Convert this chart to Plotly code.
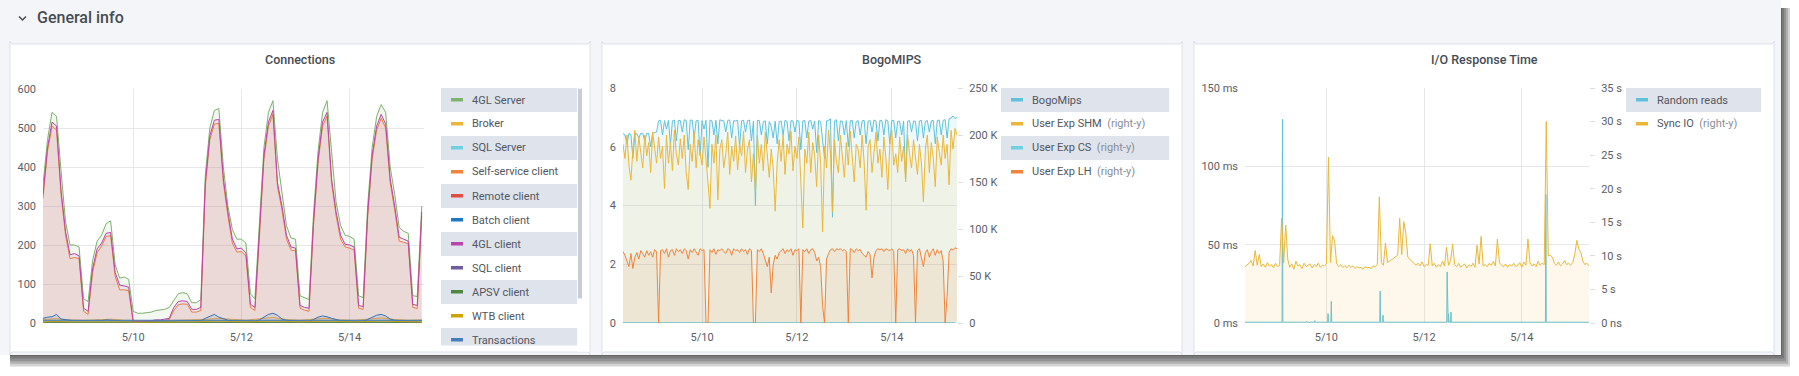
import pandas as pd
import plotly.graph_objects as go

W, H = 1799, 376
START = pd.Timestamp("2023-05-08 08:00")
END = START + pd.Timedelta(hours=169)

# ---------------- Connections (2-hour samples) ----------------
conn_hours = list(range(0, 169, 2))
gl_server = [355, 470, 540, 530, 390, 260, 200, 200, 195, 62,
             55, 160, 210, 225, 255, 262, 150, 115, 118, 112,
             30, 25, 25, 27, 28, 32, 33, 35, 40, 58,
             75, 78, 75, 52, 52, 60, 380, 500, 545, 550,
             400, 300, 240, 215, 215, 205, 75, 62, 250, 450,
             540, 570, 420, 330, 250, 218, 215, 70, 65, 60,
             280, 440, 540, 570, 440, 310, 250, 225, 222, 215,
             70, 65, 300, 450, 530, 560, 540, 400, 330, 245,
             235, 230, 70, 68, 300]
gl_client = [330, 450, 515, 505, 340, 235, 175, 178, 172, 38,
             30, 140, 190, 205, 230, 232, 130, 97, 95, 92,
             5, 4, 5, 5, 6, 8, 8, 10, 12, 40,
             55, 57, 55, 35, 35, 40, 360, 480, 520, 522,
             370, 285, 215, 190, 192, 180, 48, 40, 230, 430,
             515, 545, 360, 300, 225, 195, 192, 45, 40, 38,
             260, 420, 515, 540, 370, 285, 225, 202, 200, 195,
             45, 42, 280, 430, 505, 535, 510, 370, 300, 220,
             215, 210, 48, 45, 285]
self_service = [320, 440, 505, 495, 330, 225, 165, 168, 165, 30,
                22, 130, 180, 197, 222, 224, 120, 85, 85, 83,
                3, 3, 4, 4, 4, 6, 6, 7, 9, 32,
                47, 49, 48, 28, 28, 32, 350, 470, 510, 512,
                360, 275, 205, 182, 183, 172, 40, 32, 220, 420,
                505, 535, 350, 290, 215, 187, 185, 38, 33, 30,
                250, 410, 505, 530, 360, 275, 215, 195, 192, 187,
                38, 35, 270, 420, 495, 525, 500, 360, 290, 210,
                207, 203, 40, 37, 275]
batch_client = [12, 15, 16, 22, 10, 8, 7, 6, 6, 5,
                5, 6, 7, 6, 8, 7, 6, 5, 5, 5,
                4, 4, 4, 4, 4, 4, 4, 5, 5, 5,
                6, 6, 5, 5, 5, 6, 12, 18, 22, 15,
                10, 7, 6, 6, 5, 5, 5, 5, 8, 14,
                22, 25, 20, 10, 7, 6, 6, 5, 5, 5,
                9, 15, 18, 16, 12, 8, 6, 6, 5, 5,
                5, 5, 9, 15, 20, 22, 18, 10, 7, 6,
                6, 5, 5, 5, 7]
# minor connection series (6-hour samples)
minor_hours = list(range(0, 169, 6))
broker = [9, 11, 8, 7, 8, 10, 7, 6, 6, 6, 7, 7, 9, 12, 10, 7, 11, 14, 9, 7, 10, 12, 8, 7, 10, 13, 9, 7, 8]
sql_server = [5, 5, 4, 4, 4, 5, 4, 3, 3, 3, 4, 4, 5, 6, 5, 4, 5, 6, 5, 4, 5, 6, 5, 4, 5, 6, 5, 4, 5]
remote_client = [1, 1, 1, 1, 1, 1, 1, 1, 1, 1, 1, 1, 1, 1, 1, 1, 1, 1, 1, 1, 1, 1, 1, 1, 1, 1, 1, 1, 1]
sql_client = [0, 0, 0, 0, 0, 0, 0, 0, 0, 0, 0, 0, 0, 0, 0, 0, 0, 0, 0, 0, 0, 0, 0, 0, 0, 0, 0, 0, 0]
apsv_client = [1, 1, 1, 1, 1, 1, 1, 1, 1, 1, 1, 1, 1, 1, 1, 1, 1, 1, 1, 1, 1, 1, 1, 1, 1, 1, 1, 1, 1]
wtb_client = [3, 4, 3, 3, 3, 4, 3, 2, 2, 2, 3, 3, 4, 5, 4, 3, 4, 5, 4, 3, 4, 5, 4, 3, 4, 5, 4, 3, 3]
transactions = [7, 7, 7, 6, 6, 7, 6, 6, 6, 6, 6, 6, 7, 7, 7, 6, 7, 7, 7, 6, 7, 7, 7, 6, 7, 7, 7, 6, 7]

conn_names = ["4GL Server", "Broker", "SQL Server", "Self-service client", "Remote client",
              "Batch client", "4GL client", "SQL client", "APSV client", "WTB client", "Transactions"]
conn_colors = ["#7EB26D", "#EAB839", "#6ED0E0", "#EF843C", "#E24D42",
               "#1F78C1", "#BA43A9", "#705DA0", "#508642", "#CCA300", "#447EBC"]

# ---------------- BogoMIPS (hourly samples) ----------------
bogo_hours = list(range(0, 170))
bogomips = [6.45, 6.40, 6.10, 6.45, 6.42, 5.60, 6.45, 6.44, 6.30, 6.46,
            6.45, 6.20, 6.46, 6.45, 6.00, 6.47, 6.48, 6.50, 6.88, 6.90,
            6.40, 6.89, 6.60, 6.90, 6.05, 6.88, 6.91, 6.20, 6.90, 6.89,
            6.50, 6.92, 6.89, 5.90, 6.90, 6.91, 6.30, 6.88, 6.90, 5.70,
            6.89, 6.60, 6.90, 5.30, 6.91, 6.88, 6.40, 6.90, 6.10, 6.92,
            6.89, 6.88, 6.50, 6.90, 6.91, 6.30, 6.89, 6.88, 6.90, 6.00,
            6.88, 6.90, 6.50, 6.89, 6.91, 6.20, 6.88, 4.00, 6.90, 6.89,
            6.40, 6.85, 6.88, 6.10, 6.86, 6.70, 6.30, 6.87, 6.10, 6.85,
            6.88, 6.40, 6.90, 6.86, 6.20, 6.89, 6.88, 6.50, 6.90, 6.87,
            5.90, 6.88, 6.89, 6.30, 6.87, 6.90, 6.60, 6.88, 5.80, 6.89,
            6.86, 6.20, 5.60, 6.88, 6.90, 6.95, 3.60, 6.88, 6.92, 6.20,
            6.88, 6.87, 6.40, 6.89, 6.00, 6.88, 6.90, 6.30, 6.86, 6.89,
            6.40, 6.88, 6.90, 6.10, 6.87, 6.89, 6.50, 6.91, 6.88, 6.20,
            6.90, 6.89, 6.40, 6.92, 6.88, 6.10, 6.89, 6.90, 6.30, 6.87,
            6.86, 6.40, 6.88, 4.90, 6.87, 6.89, 6.50, 6.88, 6.86, 6.20,
            6.88, 6.90, 6.30, 6.87, 6.89, 6.50, 6.88, 6.90, 6.10, 6.89,
            6.91, 6.40, 6.90, 6.92, 6.30, 6.95, 6.98, 7.05, 6.96, 7.00]
user_exp_shm_k = [190, 175, 200, 168, 152, 185, 205, 172, 198, 180,
                  165, 200, 178, 192, 160, 203, 185, 170, 198, 175,
                  188, 143, 200, 170, 192, 162, 205, 180, 168, 196,
                  175, 200, 160, 142, 190, 172, 203, 165, 195, 180,
                  168, 198, 176, 150, 122, 190, 170, 200, 131, 185,
                  195, 165, 180, 203, 158, 188, 172, 199, 163, 190,
                  178, 204, 160, 185, 195, 150, 180, 140, 200, 170,
                  190, 162, 203, 175, 155, 185, 165, 119, 170, 195,
                  172, 200, 158, 190, 180, 204, 162, 188, 175, 198,
                  150, 101, 185, 170, 203, 160, 192, 178, 145, 200,
                  170, 97, 188, 165, 205, 180, 118, 195, 172, 160,
                  200, 178, 155, 192, 168, 204, 175, 150, 190, 185,
                  165, 200, 172, 120, 188, 195, 160, 180, 203, 170,
                  185, 155, 198, 176, 142, 190, 205, 168, 180, 160,
                  198, 172, 188, 150, 200, 180, 165, 195, 175, 158,
                  190, 170, 129, 185, 200, 160, 192, 176, 145, 198,
                  182, 168, 200, 175, 190, 147, 205, 185, 207, 200]
user_exp_lh_k = [76, 72, 66, 60, 74, 58, 70, 75, 68, 77,
                 74, 70, 77, 72, 76, 70, 78, 76, 0, 77,
                 78, 74, 79, 70, 77, 78, 72, 79, 76, 78,
                 74, 79, 77, 68, 78, 75, 79, 76, 72, 79,
                 77, 78, 0, 0, 78, 75, 79, 73, 78, 77,
                 79, 76, 74, 79, 78, 72, 79, 77, 78, 75,
                 79, 76, 78, 73, 79, 77, 0, 0, 78, 76,
                 79, 74, 66, 60, 70, 32, 62, 72, 68, 75,
                 77, 79, 74, 78, 76, 79, 72, 78, 77, 79,
                 0, 78, 76, 79, 74, 78, 79, 75, 66, 70,
                 60, 18, 0, 68, 74, 78, 79, 76, 79, 78,
                 79, 77, 78, 76, 0, 79, 78, 75, 79, 77,
                 78, 74, 72, 70, 76, 73, 48, 70, 77, 79,
                 78, 79, 76, 79, 78, 77, 79, 76, 0, 78,
                 79, 77, 78, 74, 79, 76, 78, 72, 0, 77,
                 79, 70, 60, 75, 78, 70, 76, 79, 72, 78,
                 74, 77, 66, 0, 28, 75, 79, 78, 80, 79]
cs_hours = list(range(0, 170, 12))
user_exp_cs_k = [0.4, 0.4, 0.4, 0.4, 0.4, 0.4, 0.4, 0.4, 0.4, 0.4, 0.4, 0.4, 0.4, 0.4, 0.4]

bogo_names = ["BogoMips", "User Exp SHM", "User Exp CS", "User Exp LH"]
bogo_suffix = ["", "(right-y)", "(right-y)", "(right-y)"]
bogo_colors = ["#5FC2DA", "#EAB839", "#6ED0E0", "#EF843C"]
right_k_ticks = [0, 50, 100, 150, 200, 250]
right_k_text = ["0", "50 K", "100 K", "150 K", "200 K", "250 K"]

# ---------------- I/O Response Time ----------------
rr_hours = [0, 18.2, 18.4, 18.6, 30.0, 30.2, 30.4, 34.1, 34.3, 34.5, 40.6, 40.8, 41.0,
            42.2, 42.4, 42.6, 66.2, 66.4, 66.6, 67.6, 67.8, 68.0, 99.1, 99.3, 99.5,
            99.8, 100.0, 100.2, 101.0, 101.2, 101.4, 147.6, 147.8, 148.0, 169]
random_reads_ms = [0.5, 0.5, 130, 0.5, 0.5, 1.0, 0.5, 0.5, 1.5, 0.5, 0.5, 6, 0.5,
                   0.5, 13.8, 0.5, 0.5, 20.4, 0.5, 0.5, 5, 0.5, 0.5, 32.6, 0.5,
                   0.5, 6, 0.5, 0.5, 7, 0.5, 0.5, 82, 0.5, 0.5]
sync_hours = list(range(0, 170))
sync_io_s = [8.4, 8.6, 8.9, 9.3, 8.5, 10.8, 8.6, 10.2, 8.4, 8.8,
             8.3, 9.0, 8.5, 8.7, 8.2, 8.9, 8.4, 8.6, 15.6, 9.0,
             14.6, 9.5, 8.3, 8.8, 8.0, 9.2, 8.5, 8.7, 8.1, 8.9,
             8.4, 8.6, 8.8, 8.2, 8.7, 8.4, 8.9, 8.3, 8.6, 8.5,
             8.8, 24.7, 9.0, 13.0, 12.3, 8.9, 8.4, 8.7, 8.3, 8.5,
             8.2, 8.6, 8.3, 8.5, 8.1, 8.4, 8.2, 8.3, 8.0, 8.4,
             8.2, 8.3, 8.1, 8.5, 8.4, 8.7, 18.8, 9.0, 8.6, 11.9,
             9.0, 9.2, 9.4, 9.6, 9.8, 10.1, 15.6, 10.2, 15.1, 13.4,
             9.8, 9.5, 9.2, 8.8, 8.6, 8.9, 8.5, 9.1, 8.4, 8.7,
             8.6, 11.8, 8.5, 8.9, 8.3, 8.7, 8.4, 9.2, 8.5, 11.3,
             8.6, 9.3, 11.8, 8.7, 8.4, 8.9, 8.3, 8.6, 8.8, 8.2,
             8.7, 8.4, 8.9, 8.3, 11.6, 8.8, 12.9, 8.5, 8.7, 8.4,
             8.9, 8.6, 9.2, 8.5, 12.5, 9.0, 8.6, 8.4, 8.8, 8.3,
             8.7, 8.5, 8.9, 8.4, 8.6, 9.0, 8.3, 9.1, 8.6, 12.5,
             9.0, 8.5, 8.8, 8.4, 9.2, 8.6, 8.9, 8.7, 30.0, 10.0,
             10.1, 9.8, 8.9, 8.6, 9.1, 8.5, 8.8, 9.3, 8.7, 8.9,
             8.6, 9.0, 10.2, 12.3, 11.0, 10.5, 9.2, 8.7, 8.9, 8.5]
io_names = ["Random reads", "Sync IO"]
io_suffix = ["", "(right-y)"]
io_colors = ["#5FC2DA", "#EAB839"]
ms_ticks = [0, 50, 100, 150]
ms_text = ["0 ms", "50 ms", "100 ms", "150 ms"]
s_ticks = [0, 5, 10, 15, 20, 25, 30, 35]
s_text = ["0 ns", "5 s", "10 s", "15 s", "20 s", "25 s", "30 s", "35 s"]

date_ticks = ["2023-05-10", "2023-05-12", "2023-05-14"]
date_text = ["5/10", "5/12", "5/14"]

# ---------------- helpers ----------------
FONT = "Roboto, 'Noto Sans', sans-serif"
TXT = "#464c54"
TICK = "#5a5e66"
GRID = "#e6e7ea"


def t(hours):
    return [START + pd.Timedelta(hours=h) for h in hours]


def px(x):
    return x / W


def py(y):
    return 1 - y / H


def rgba(hexc, a):
    h = hexc.lstrip("#")
    return "rgba(%d,%d,%d,%s)" % (int(h[0:2], 16), int(h[2:4], 16), int(h[4:6], 16), a)


def series(hours, vals, color, xa, ya):
    return go.Scatter(x=t(hours), y=vals, mode="lines", line=dict(color=color, width=1),
                      fill="tozeroy", fillcolor=rgba(color, 0.1), xaxis=xa, yaxis=ya,
                      hoverinfo="skip", showlegend=False)


def rrect(x0, y0, x1, y1, r=3):
    X0, X1 = px(x0), px(x1)
    Y0, Y1 = py(y0), py(y1)
    rx, ry = r / W, r / H
    return ("M %f,%f L %f,%f Q %f,%f %f,%f L %f,%f Q %f,%f %f,%f L %f,%f Q %f,%f %f,%f "
            "L %f,%f Q %f,%f %f,%f Z" % (
                X0 + rx, Y0, X1 - rx, Y0, X1, Y0, X1, Y0 - ry, X1, Y1 + ry, X1, Y1, X1 - rx, Y1,
                X0 + rx, Y1, X0, Y1, X0, Y1 + ry, X0, Y0 - ry, X0, Y0, X0 + rx, Y0))


fig = go.Figure()

# Connections traces (in legend order, first drawn at bottom)
conn_data = [(conn_hours, gl_server), (minor_hours, broker), (minor_hours, sql_server),
             (conn_hours, self_service), (minor_hours, remote_client), (conn_hours, batch_client),
             (conn_hours, gl_client), (minor_hours, sql_client), (minor_hours, apsv_client),
             (minor_hours, wtb_client), (minor_hours, transactions)]
for (hrs, vals), col in zip(conn_data, conn_colors):
    fig.add_trace(series(hrs, vals, col, "x", "y"))

# BogoMIPS traces
fig.add_trace(series(bogo_hours, bogomips, bogo_colors[0], "x2", "y2"))
fig.add_trace(series(bogo_hours, user_exp_shm_k, bogo_colors[1], "x2", "y3"))
fig.add_trace(series(cs_hours, user_exp_cs_k, bogo_colors[2], "x2", "y3"))
fig.add_trace(series(bogo_hours, user_exp_lh_k, bogo_colors[3], "x2", "y3"))

# I/O traces
fig.add_trace(series(rr_hours, random_reads_ms, io_colors[0], "x3", "y4"))
fig.add_trace(series(sync_hours, sync_io_s, io_colors[1], "x3", "y5"))

tickfont = dict(family=FONT, size=11, color=TICK)


def xax(dom, anchor):
    return dict(domain=dom, anchor=anchor, range=[START, END], tickvals=date_ticks, ticktext=date_text,
                showgrid=True, gridcolor=GRID, gridwidth=1, zeroline=False, showline=False, ticks="",
                tickfont=tickfont, automargin=False, ticklabelstandoff=6, fixedrange=True)


def yleft(dom, anchor, rng, vals, text=None):
    d = dict(domain=dom, anchor=anchor, range=rng, tickvals=vals, showgrid=True, gridcolor=GRID,
             gridwidth=1, zeroline=False, showline=False, ticks="", tickfont=tickfont,
             automargin=False, ticklabelstandoff=6, fixedrange=True)
    if text:
        d["ticktext"] = text
    return d


def yright(over, anchor, rng, vals, text):
    return dict(overlaying=over, side="right", anchor=anchor, range=rng, tickvals=vals, ticktext=text,
                showgrid=False, zeroline=False, showline=False, ticks="outside", ticklen=5,
                tickcolor="#dcdee2", tickfont=tickfont, automargin=False, ticklabelstandoff=4,
                fixedrange=True)


ydom = [py(323), py(88)]
fig.update_layout(
    xaxis=xax([px(43), px(424)], "y"),
    yaxis=yleft([py(323), py(89)], "x", [0, 600], [0, 100, 200, 300, 400, 500, 600]),
    xaxis2=xax([px(623), px(957)], "y2"),
    yaxis2=yleft(ydom, "x2", [0, 8], [0, 2, 4, 6, 8]),
    yaxis3=yright("y2", "x2", [0, 250], right_k_ticks, right_k_text),
    xaxis3=xax([px(1245), px(1589)], "y4"),
    yaxis4=yleft(ydom, "x3", [0, 150], ms_ticks, ms_text),
    yaxis5=yright("y4", "x3", [0, 35], s_ticks, s_text),
)

shapes = []
# screenshot drop shadow
for i in range(5):
    shapes.append(dict(type="rect", xref="paper", yref="paper", x0=px(10), x1=px(1782 + 2 * i),
                       y0=py(356 + 2.6 * i), y1=py(8), fillcolor="rgba(0,0,0,0.17)",
                       line=dict(width=0), layer="below"))
# page background
shapes.append(dict(type="rect", xref="paper", yref="paper", x0=0, x1=px(1781), y0=py(355), y1=1,
                   fillcolor="#f4f5f8", line=dict(width=0), layer="below"))
# panels
panels = [(10, 590), (602, 1182), (1194, 1774)]
for a, b in panels:
    shapes.append(dict(type="path", xref="paper", yref="paper", path=rrect(a, 352, b, 44),
                       fillcolor="#ffffff", line=dict(color="#dde1ea", width=1), layer="below"))
# chevron of the row header
shapes.append(dict(type="path", xref="paper", yref="paper",
                   path="M %f,%f L %f,%f L %f,%f" % (px(19), py(16.5), px(22.5), py(20), px(26), py(16.5)),
                   line=dict(color=TXT, width=1.5), layer="above"))

annotations = [
    dict(text="General info", x=px(35), y=py(18), xref="paper", yref="paper", xanchor="left",
         yanchor="middle", showarrow=False, font=dict(family=FONT, size=16, color=TXT, weight=500)),
]
titles = ["Connections", "BogoMIPS", "I/O Response Time"]
for (a, b), ttl in zip(panels, titles):
    annotations.append(dict(text=ttl, x=px((a + b) / 2), y=py(60), xref="paper", yref="paper",
                            xanchor="center", yanchor="middle", showarrow=False,
                            font=dict(family=FONT, size=12.5, color=TXT, weight=500)))


def legend(x0, x1, names, colors, suffixes):
    for i, (n, c, s) in enumerate(zip(names, colors, suffixes)):
        top = 88 + 24 * i
        if i % 2 == 0:
            shapes.append(dict(type="rect", xref="paper", yref="paper", x0=px(x0), x1=px(x1),
                               y0=py(top + 24), y1=py(top), fillcolor="#dee3ec", line=dict(width=0),
                               layer="below"))
        shapes.append(dict(type="rect", xref="paper", yref="paper", x0=px(x0 + 10), x1=px(x0 + 22),
                           y0=py(top + 13.5), y1=py(top + 10), fillcolor=c, line=dict(width=0),
                           layer="above"))
        label = n
        if s:
            label += "<span style='color:#8a8e96'>\u00a0\u00a0%s</span>" % s
        annotations.append(dict(text=label, x=px(x0 + 29), y=py(top + 12), xref="paper", yref="paper",
                                xanchor="left", yanchor="middle", showarrow=False,
                                font=dict(family=FONT, size=11, color="#52565e")))


legend(441, 577, conn_names, conn_colors, [""] * len(conn_names))
legend(1001, 1169, bogo_names, bogo_colors, bogo_suffix)
legend(1626, 1761, io_names, io_colors, io_suffix)
# legend scrollbar of Connections panel
shapes.append(dict(type="path", xref="paper", yref="paper", path=rrect(578, 298, 582, 89, r=2),
                   fillcolor="#c9ced6", line=dict(width=0), layer="above"))
# clip the last legend row to the panel like the reference
shapes.append(dict(type="rect", xref="paper", yref="paper", x0=px(441), x1=px(589), y0=py(351.5),
                   y1=py(345.5), fillcolor="#ffffff", line=dict(width=0), layer="above"))

fig.update_layout(
    width=W, height=H, autosize=False, template="none",
    margin=dict(l=0, r=0, t=0, b=0, pad=0),
    paper_bgcolor="#ffffff", plot_bgcolor="rgba(0,0,0,0)",
    showlegend=False, hovermode=False,
    shapes=shapes, annotations=annotations,
    font=dict(family=FONT, color=TXT),
)

fig.write_html("out.html", config={"displayModeBar": False, "staticPlot": True},
               post_script="document.body.style.margin='0px';document.body.style.overflow='hidden';")
